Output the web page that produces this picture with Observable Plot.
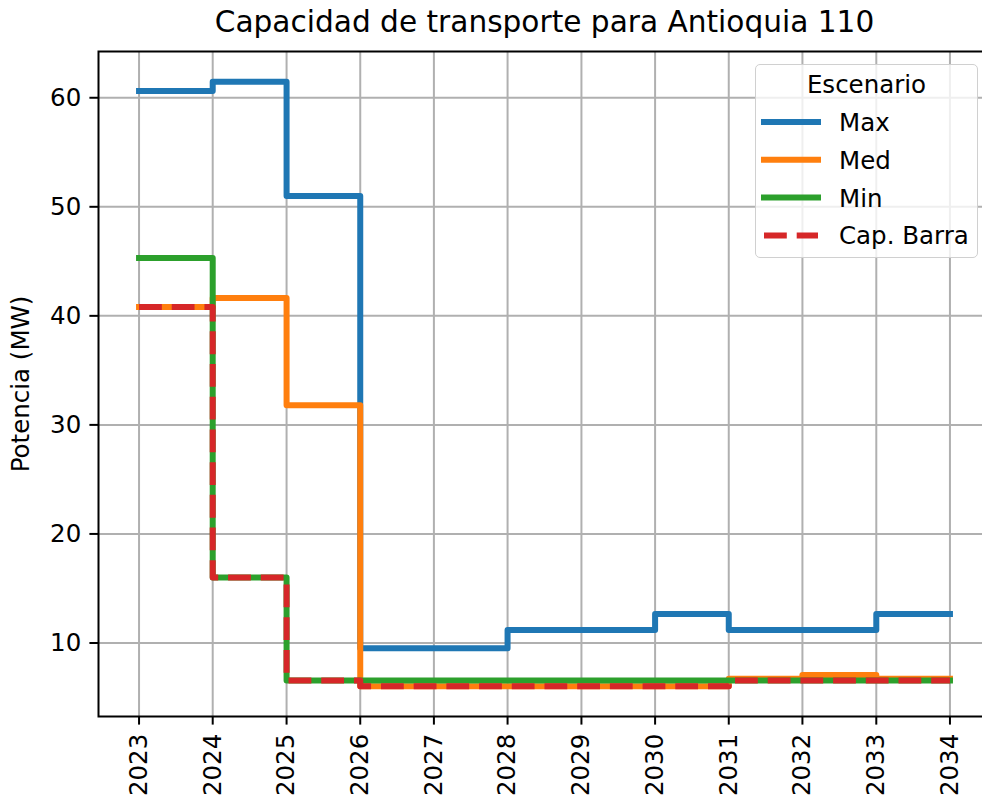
<!DOCTYPE html>
<html>
<head>
<meta charset="utf-8">
<script src="https://cdn.jsdelivr.net/npm/d3@7"></script>
<script src="https://cdn.jsdelivr.net/npm/@observablehq/plot@0.6"></script>
<style>
  html, body { margin: 0; padding: 0; background: white; overflow: hidden; }
  #wrap { position: relative; width: 982px; height: 802px; overflow: hidden; }
  #wrap > svg { max-width: none !important; display: block; }
  #legend { position: absolute; left: 755px; top: 64px; width: 223px; height: 194px;
            box-sizing: border-box; border: 1.5px solid #d0d0d0; border-radius: 5px;
            background: rgba(255,255,255,0.8); }
  #legend svg { position: absolute; left: -1.5px; top: -1.5px; overflow: visible; }
</style>
</head>
<body>
<div id="wrap"><div id="legend"></div></div>
<script>
const years = [2023, 2024, 2025, 2026, 2027, 2028, 2029, 2030, 2031, 2032, 2033, 2034];
const maxVals = [60.62, 61.47, 51.0, 9.51, 9.51, 11.19, 11.19, 12.66, 11.19, 11.19, 12.66, 12.66];
const medVals = [40.82, 41.63, 31.79, 6.03, 6.03, 6.03, 6.03, 6.03, 6.71, 7.07, 6.71, 6.71];
const minVals = [45.3, 16.0, 6.55, 6.55, 6.55, 6.55, 6.55, 6.55, 6.55, 6.55, 6.55, 6.55];
const capVals = [40.82, 16.0, 6.55, 6.03, 6.03, 6.03, 6.03, 6.03, 6.55, 6.55, 6.55, 6.55];
const seriesNames = ["Max", "Med", "Min", "Cap. Barra"];
const seriesColors = ["#1f77b4", "#ff7f0e", "#2ca02c", "#d62728"];
const yTicks = [10, 20, 30, 40, 50, 60];
const titleText = "Capacidad de transporte para Antioquia 110";
const yLabel = "Potencia (MW)";
const legendTitle = "Escenario";

const dates = years.map(y => new Date(Date.UTC(y, 0, 1)));
const allVals = [maxVals, medVals, minVals, capVals];
const rows = [];
allVals.forEach((vals, s) => vals.forEach((v, i) => rows.push({date: dates[i], value: v, series: seriesNames[s]})));
const solidRows = rows.filter(r => r.series !== "Cap. Barra");
const capRows = rows.filter(r => r.series === "Cap. Barra");

const t0 = +dates[0], t1 = +dates[dates.length - 1], tspan = t1 - t0;
const xDomain = [new Date(t0 - 0.05 * tspan), new Date(t1 + 0.05 * tspan)];
const [vmin, vmax] = d3.extent(rows, r => r.value);
const yDomain = [vmin - 0.05 * (vmax - vmin), vmax + 0.05 * (vmax - vmin)];

const FS = 24.5;
const chart = Plot.plot({
  width: 990, height: 802,
  marginLeft: 98, marginRight: 0, marginTop: 51, marginBottom: 86,
  style: {fontFamily: "DejaVu Sans", fontSize: FS + "px", color: "black", background: "white", maxWidth: "none"},
  x: {type: "utc", domain: xDomain},
  y: {domain: yDomain},
  color: {domain: seriesNames, range: seriesColors},
  marks: [
    Plot.gridX(dates, {stroke: "#b0b0b0", strokeOpacity: 1, strokeWidth: 2}),
    Plot.gridY(yTicks, {stroke: "#b0b0b0", strokeOpacity: 1, strokeWidth: 2}),
    Plot.line(solidRows, {x: "date", y: "value", z: "series", stroke: "series", curve: "step-after",
      strokeWidth: 6, strokeLinecap: "square", strokeLinejoin: "round"}),
    Plot.line(capRows, {x: "date", y: "value", stroke: "series", curve: "step-after",
      strokeWidth: 6, strokeLinecap: "butt", strokeLinejoin: "round", strokeDasharray: "22.8,9.9"}),
    Plot.frame({stroke: "black", strokeWidth: 2}),
    Plot.axisX(dates, {tickFormat: d => String(d.getUTCFullYear()), tickRotate: -90,
      tickSize: 8.6, tickPadding: 8.6, strokeWidth: 2, label: null, fontSize: FS}),
    Plot.axisY(yTicks, {tickSize: 8.6, tickPadding: 8.6, strokeWidth: 2, fontSize: FS,
      label: yLabel, labelAnchor: "center", labelArrow: "none", labelOffset: 87}),
    Plot.text([titleText], {frameAnchor: "top", dy: -29, fontSize: 29.6, lineAnchor: "middle"})
  ]
});
chart.style.maxWidth = "none";
const wrap = document.getElementById("wrap");
wrap.insertBefore(chart, wrap.firstChild);

// Legend
const leg = d3.select("#legend").append("svg").attr("width", 223).attr("height", 194)
  .style("font-family", "DejaVu Sans").style("font-size", FS + "px");
leg.append("text").attr("x", 111.5).attr("y", 29).attr("text-anchor", "middle").text(legendTitle);
seriesNames.forEach((name, i) => {
  const cy = 58 + i * 37.8;
  leg.append("line").attr("x1", 9).attr("x2", 63).attr("y1", cy).attr("y2", cy)
    .attr("stroke", seriesColors[i]).attr("stroke-width", 6)
    .attr("stroke-linecap", i === 3 ? "butt" : "square")
    .attr("stroke-dasharray", i === 3 ? "22.8,9.9" : null);
  leg.append("text").attr("x", 84).attr("y", cy + 9).text(name);
});
</script>
</body>
</html>
